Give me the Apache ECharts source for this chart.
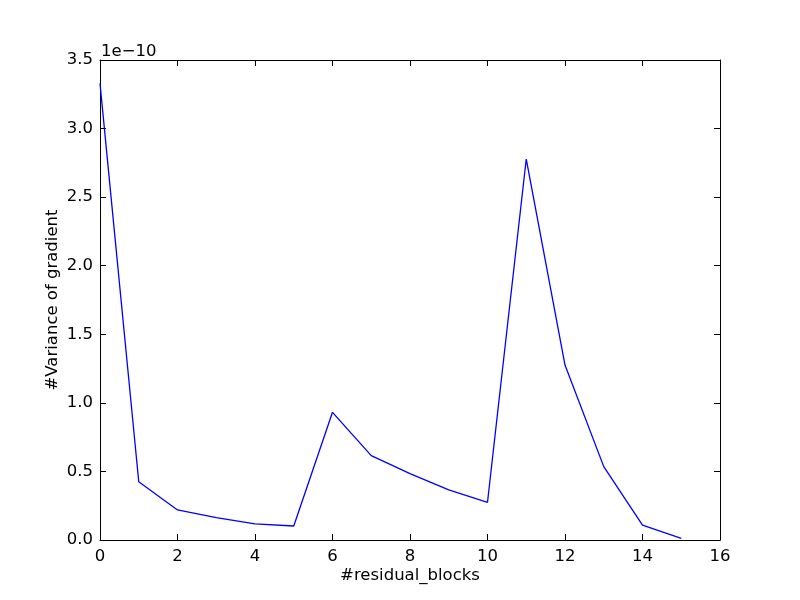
<!DOCTYPE html>
<html>
<head>
<meta charset="utf-8">
<script src="https://cdn.jsdelivr.net/npm/echarts@6/dist/echarts.min.js"></script>
<style>
  html, body { margin: 0; padding: 0; background: #fff; }
  #chart { width: 800px; height: 600px; }
</style>
</head>
<body>
<div id="chart"></div>
<script>
// residual block index
const blocks = [0, 1, 2, 3, 4, 5, 6, 7, 8, 9, 10, 11, 12, 13, 14, 15]
// variance of gradient, in units of 1e-10
const variance = [3.33, 0.425, 0.219, 0.163, 0.117, 0.102, 0.931, 0.615, 0.484, 0.365, 0.275, 2.778, 1.276, 0.535, 0.109, 0.012]
const scaleLabel = '1e\u221210'

const font = 'DejaVu Sans'
const fontSize = 16.5

const chart = echarts.init(document.getElementById('chart'), null, { renderer: 'canvas' })

// shared axis styling (matplotlib classic look: ticks inside on all sides)
const axisBase = {
  axisLine: { show: true, onZero: false, lineStyle: { color: '#000', width: 1 } },
  axisTick: { show: true, inside: true, length: 6, lineStyle: { color: '#000', width: 1 } },
  splitLine: { show: false }
}

const option = {
  animation: false,
  backgroundColor: '#fff',
  grid: { left: 100, right: 80, top: 60, bottom: 60, containLabel: false },
  graphic: [
    {
      type: 'text',
      left: 101,
      top: 43,
      style: { text: scaleLabel, font: fontSize + 'px ' + font, fill: '#000' }
    }
  ],
  xAxis: [
    Object.assign({}, axisBase, {
      type: 'value', min: 0, max: 16, interval: 2, position: 'bottom',
      name: '#residual_blocks', nameLocation: 'middle', nameGap: 27,
      nameMoveOverlap: false,
      nameTextStyle: { color: '#000', fontFamily: font, fontSize: fontSize },
      axisLabel: { color: '#000', fontFamily: font, fontSize: fontSize, margin: 8 }
    }),
    Object.assign({}, axisBase, {
      type: 'value', min: 0, max: 16, interval: 2, position: 'top',
      axisLabel: { show: false }
    })
  ],
  yAxis: [
    Object.assign({}, axisBase, {
      type: 'value', min: 0, max: 3.5, interval: 0.5, position: 'left',
      name: '#Variance of gradient', nameLocation: 'middle', nameGap: 39,
      nameMoveOverlap: false,
      nameTextStyle: { color: '#000', fontFamily: font, fontSize: fontSize },
      axisLabel: {
        color: '#000', fontFamily: font, fontSize: fontSize, margin: 7,
        formatter: v => v.toFixed(1)
      }
    }),
    Object.assign({}, axisBase, {
      type: 'value', min: 0, max: 3.5, interval: 0.5, position: 'right',
      axisLabel: { show: false }
    })
  ],
  series: [
    {
      type: 'line',
      data: blocks.map((b, i) => [b, variance[i]]),
      showSymbol: false,
      symbol: 'none',
      lineStyle: { color: '#0000ff', width: 1.3 },
      clip: false
    }
  ]
}

chart.setOption(option)
</script>
</body>
</html>
